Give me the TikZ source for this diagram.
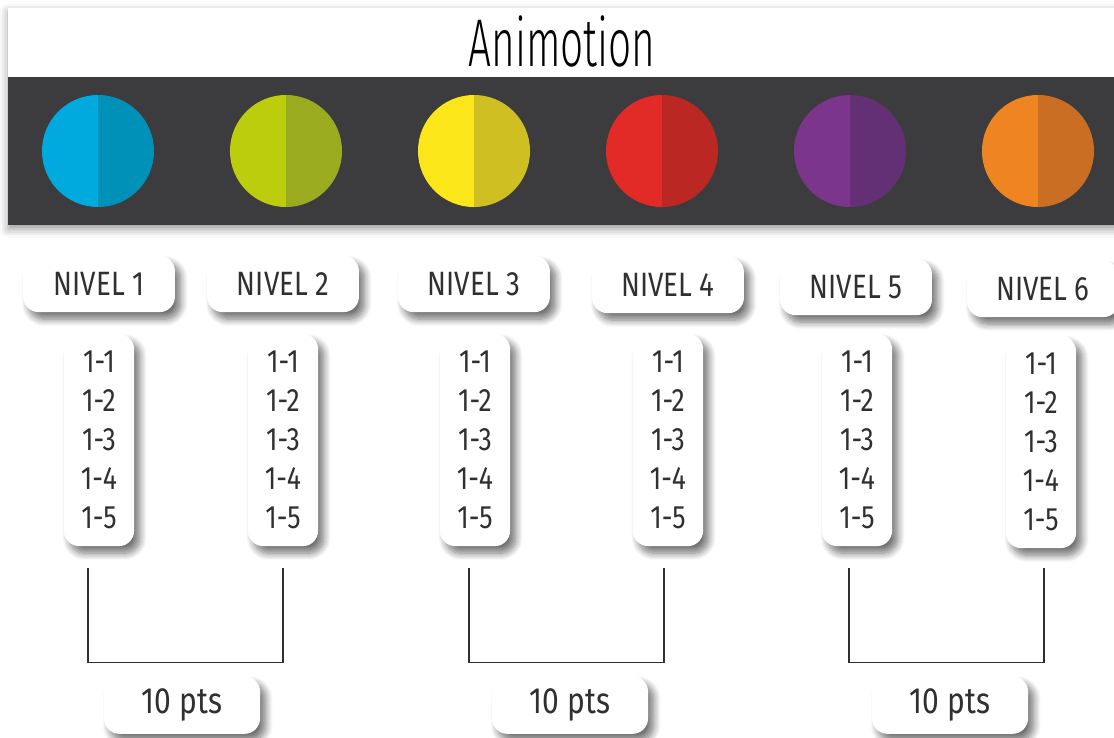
\documentclass[tikz,border=0pt]{standalone}
\usepackage{fontspec}
\setmainfont{Fira Sans}[FakeStretch=0.82]
\newfontfamily\titlefont{Fira Sans Light}[FakeStretch=0.6]
\usetikzlibrary{positioning,calc,shadows.blur}

\definecolor{bandgray}{HTML}{3C3C3E}
\definecolor{textgray}{HTML}{303030}
\definecolor{blueA}{HTML}{00A9DE}
\definecolor{blueB}{HTML}{0091B9}
\definecolor{limeA}{HTML}{BCCD0E}
\definecolor{limeB}{HTML}{9AAB1F}
\definecolor{yellowA}{HTML}{FBE619}
\definecolor{yellowB}{HTML}{D0BF23}
\definecolor{redA}{HTML}{E22A26}
\definecolor{redB}{HTML}{BB2723}
\definecolor{purpleA}{HTML}{7B358A}
\definecolor{purpleB}{HTML}{633075}
\definecolor{orangeA}{HTML}{EF8520}
\definecolor{orangeB}{HTML}{C96E22}

\tikzset{
  card/.style={fill=white, rounded corners=11pt, inner sep=0pt, text=textgray,
    blur shadow={shadow xshift=4pt, shadow yshift=-5pt, shadow blur radius=5pt, shadow blur steps=10, shadow opacity=55}},
  level/.style={card, minimum width=108pt, minimum height=40pt, font=\fontsize{24}{28}\selectfont},
  items/.style={card, minimum width=50pt, minimum height=151pt, align=center, font=\fontsize{23}{27.6}\selectfont},
  score/.style={card, minimum width=111pt, minimum height=41pt, font=\fontsize{26}{30}\selectfont},
  bracket/.style={draw=textgray, line width=1pt},
}

% half light / half dark disc: x, y, left colour, right colour
\newcommand{\splitdisc}[4]{%
  \fill[#3] (#1,#2) ++(0,56) arc[start angle=90, end angle=270, radius=1.4cm] -- cycle;
  \fill[#4] (#1,#2) ++(0,56) arc[start angle=90, end angle=-90, radius=1.4cm] -- cycle;
}

\begin{document}
\begin{tikzpicture}[x=0.025cm, y=0.025cm]
    \useasboundingbox (0,0) rectangle (1114,738);
    % Header panel
    \fill[white, blur shadow={shadow xshift=0pt, shadow yshift=-3pt, shadow blur radius=6pt, shadow opacity=40}]
      (8,730) rectangle (1130,513);
    \fill[bandgray] (8,661) rectangle (1130,513);
    \node[font=\titlefont\fontsize{48}{52}\selectfont] (title) at (562,697) {Animotion};
    % Colour discs
    \splitdisc{98}{587}{blueA}{blueB}
    \splitdisc{286}{587}{limeA}{limeB}
    \splitdisc{474}{587}{yellowA}{yellowB}
    \splitdisc{662}{587}{redA}{redB}
    \splitdisc{850}{587}{purpleA}{purpleB}
    \splitdisc{1038}{587}{orangeA}{orangeB}
    % Levels
    \node[level] (n1) at (99,454) {NIVEL 1};
    \node[level] (n2) at (283,454) {NIVEL 2};
    \node[level] (n3) at (474,454) {NIVEL 3};
    \node[level] (n4) at (668,453) {NIVEL 4};
    \node[level] (n5) at (856,451) {NIVEL 5};
    \node[level] (n6) at (1043,449) {NIVEL 6};
    % Sub-levels
    \node[items] (l1) at (99,298) {1-1\\1-2\\1-3\\1-4\\1-5};
    \node[items] (l2) at (283,298) {1-1\\1-2\\1-3\\1-4\\1-5};
    \node[items] (l3) at (475,298) {1-1\\1-2\\1-3\\1-4\\1-5};
    \node[items] (l4) at (668,298) {1-1\\1-2\\1-3\\1-4\\1-5};
    \node[items] (l5) at (857,298) {1-1\\1-2\\1-3\\1-4\\1-5};
    \node[items] (l6) at (1041,296) {1-1\\1-2\\1-3\\1-4\\1-5};
    % Brackets
    \draw[bracket] ($(l1.south)+(-11,-22)$) -- ++(0,-94) -| ($(l2.south)+(0,-22)$);
    \draw[bracket] ($(l3.south)+(-6,-22)$) -- ++(0,-94) -| ($(l4.south)+(-4,-22)$);
    \draw[bracket] ($(l5.south)+(-8,-22)$) -- ++(0,-94) -| ($(l6.south)+(3,-20)$);
    % Points
    \node[score] (p1) at (182,33) {10 pts};
    \node[score] (p2) at (570,33) {10 pts};
    \node[score] (p3) at (950,33) {10 pts};
\end{tikzpicture}
\end{document}
